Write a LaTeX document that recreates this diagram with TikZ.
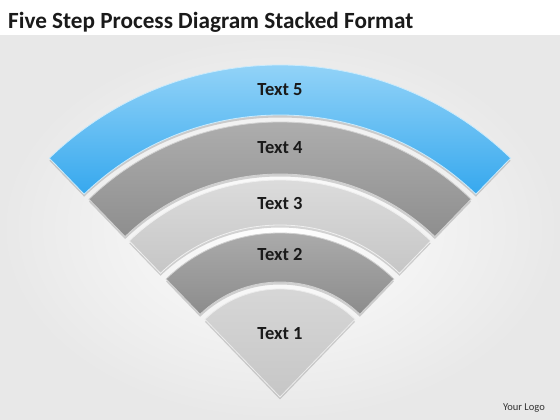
\documentclass[tikz,border=0pt]{standalone}
\usepackage{fontspec}
\setmainfont{Carlito}
\definecolor{bgedge}{HTML}{E8E8E8}
\definecolor{txt}{HTML}{1A1A1A}
\definecolor{bluetop}{HTML}{A8DDFA}
\definecolor{bluebot}{HTML}{36A8EE}
\definecolor{gfourtop}{HTML}{B4B4B4}
\definecolor{gfourbot}{HTML}{8E8E8E}
\definecolor{gthreetop}{HTML}{E0E0E0}
\definecolor{gthreebot}{HTML}{C6C6C6}
\definecolor{gtwotop}{HTML}{B0B0B0}
\definecolor{gtwobot}{HTML}{8C8C8C}
\definecolor{gonetop}{HTML}{D8D8D8}
\definecolor{gonebot}{HTML}{C6C6C6}
\begin{document}
\begin{tikzpicture}[x=1pt,y=1pt,
  lbl/.style={font=\bfseries\fontsize{18.5}{21}\selectfont, text=txt},
  bandp/.style 2 args={insert path={([shift={(46:#2)}]C) arc[start angle=46,end angle=134,radius=#2] -- ([shift={(134:#1)}]C) arc[start angle=134,end angle=46,radius=#1] -- cycle}},
  sectp/.style={insert path={(C) -- ([shift={(46:#1)}]C) arc[start angle=46,end angle=134,radius=#1] -- cycle}},
  shadowed/.style={fill=black, opacity=0.16, transform canvas={yshift=-2.5pt}}
]
\useasboundingbox (0,0) rectangle (560,420);
\fill[white] (0,0) rectangle (560,420);
\shade[inner color=white, outer color=bgedge] (0,0) rectangle (560,384);
\coordinate (C) at (280,23);
\node[anchor=base west, font=\bfseries\fontsize{23.2}{27}\selectfont, text=txt, inner sep=0] (title) at (8,391) {Five Step Process Diagram Stacked Format};
\node[anchor=base east, font=\fontsize{10.5}{12}\selectfont, text=black!80, inner sep=0] (logo) at (545,9) {Your Logo};
% shadows
\fill[shadowed] [bandp={282}{332}];
\fill[shadowed] [bandp={223}{275}];
\fill[shadowed] [bandp={172}{217}];
\fill[shadowed] [bandp={115}{164}];
\fill[shadowed] [sectp={108}];
% bands
\shade[top color=bluetop, bottom color=bluebot] [bandp={282}{332}];
\draw[draw=bluetop!60!white, line width=0.8pt] [bandp={282}{332}];
\shade[top color=gfourtop, bottom color=gfourbot] [bandp={223}{275}];
\draw[draw=gfourtop!60!white, line width=0.8pt] [bandp={223}{275}];
\shade[top color=gthreetop, bottom color=gthreebot] [bandp={172}{217}];
\draw[draw=gthreetop!50!white, line width=0.8pt] [bandp={172}{217}];
\shade[top color=gtwotop, bottom color=gtwobot] [bandp={115}{164}];
\draw[draw=gtwotop!60!white, line width=0.8pt] [bandp={115}{164}];
\shade[top color=gonetop, bottom color=gonebot] [sectp={108}];
\draw[draw=gonetop!50!white, line width=0.8pt] [sectp={108}];
% labels
\node[lbl] (t5) at ([shift={(90:307)}]C) {Text 5};
\node[lbl] (t4) at ([shift={(90:249)}]C) {Text 4};
\node[lbl] (t3) at ([shift={(90:193)}]C) {Text 3};
\node[lbl] (t2) at ([shift={(90:142)}]C) {Text 2};
\node[lbl] (t1) at ([shift={(90:63)}]C) {Text 1};
\end{tikzpicture}
\end{document}
